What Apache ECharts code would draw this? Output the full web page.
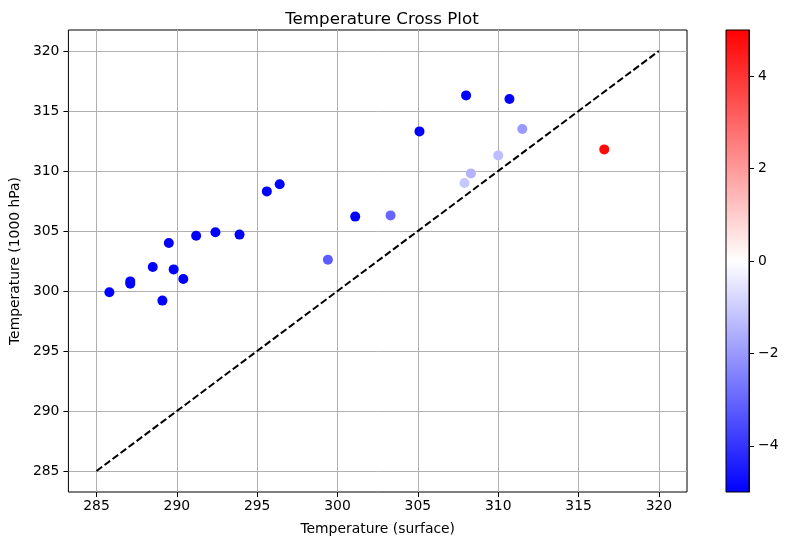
<!DOCTYPE html>
<html>
<head>
<meta charset="utf-8">
<script src="https://cdn.jsdelivr.net/npm/echarts@6/dist/echarts.min.js"></script>
<style>html,body{margin:0;padding:0;background:#fff}#c{width:789px;height:546px}</style>
</head>
<body>
<div id="c"></div>
<script>
// Data
var surfaceT = [285.8, 287.1, 287.1, 288.5, 289.5, 289.8, 289.1, 290.4, 291.2, 292.4, 293.9, 295.6, 296.4, 299.4, 301.1, 303.3, 305.1, 308.0, 307.9, 308.3, 310.0, 310.7, 311.5, 316.6];
var t1000hPa = [299.9, 300.8, 300.6, 302.0, 304.0, 301.8, 299.2, 301.0, 304.6, 304.9, 304.7, 308.3, 308.9, 302.6, 306.2, 306.3, 313.3, 316.3, 309.0, 309.8, 311.3, 316.0, 313.5, 311.8];
var colourValue = [-5, -5, -5, -5, -5, -5, -5, -5, -5, -5, -5, -5, -5, -3.2, -5, -3.0, -5, -5, -1.1, -1.5, -1.3, -5, -2.0, 4.8];
var refLineX = [285, 320];
var refLineY = [285, 320];
var axisTicks = [285, 290, 295, 300, 305, 310, 315, 320];
var colorbarTicks = [-4, -2, 0, 2, 4];

var points = surfaceT.map(function (x, i) { return [x, t1000hPa[i], colourValue[i]]; });
var refLine = refLineX.map(function (x, i) { return [x, refLineY[i]]; });

var FONT = 'DejaVu Sans';
var FS = 13.9;
var chart = echarts.init(document.getElementById('c'), null, {renderer: 'canvas'});
chart.setOption({
  animation: false,
  backgroundColor: '#fff',
  textStyle: {fontFamily: FONT},
  title: {
    text: 'Temperature Cross Plot',
    left: 377, top: 6, textAlign: 'center',
    textStyle: {fontFamily: FONT, fontSize: 16.7, fontWeight: 'normal', color: '#000'}
  },
  grid: [
    {left: 67, top: 30, width: 620, height: 462, show: true, borderColor: '#000', borderWidth: 1, backgroundColor: '#fff'},
    {left: 726, top: 30, width: 23, height: 462, show: true, borderColor: '#000', borderWidth: 1,
     backgroundColor: {type: 'linear', x: 0, y: 0, x2: 0, y2: 1,
       colorStops: [{offset: 0, color: '#ff0000'}, {offset: 0.5, color: '#ffffff'}, {offset: 1, color: '#0000ff'}]}}
  ],
  xAxis: [
    {
      gridIndex: 0, type: 'value', min: 283.25, max: 321.75,
      name: 'Temperature (surface)', nameLocation: 'middle', nameGap: 30,
      nameTextStyle: {fontFamily: FONT, fontSize: FS, color: '#000'},
      axisLine: {show: false},
      axisTick: {show: true, length: 5, inside: false, customValues: axisTicks, lineStyle: {color: '#000'}},
      axisLabel: {customValues: axisTicks, fontFamily: FONT, fontSize: FS, color: '#000', margin: 7},
      splitLine: {show: true, lineStyle: {color: '#b0b0b0', width: 1}}
    },
    {gridIndex: 1, type: 'value', min: 0, max: 1, show: false}
  ],
  yAxis: [
    {
      gridIndex: 0, type: 'value', min: 283.25, max: 321.75,
      name: 'Temperature (1000 hPa)', nameLocation: 'middle', nameGap: 46, nameRotate: 90,
      nameTextStyle: {fontFamily: FONT, fontSize: FS, color: '#000'},
      axisLine: {show: false},
      axisTick: {show: true, length: 5, inside: false, customValues: axisTicks, lineStyle: {color: '#000'}},
      axisLabel: {customValues: axisTicks, fontFamily: FONT, fontSize: FS, color: '#000', margin: 9},
      splitLine: {show: true, lineStyle: {color: '#b0b0b0', width: 1}}
    },
    {
      gridIndex: 1, type: 'value', min: -5, max: 5, position: 'right',
      axisLine: {show: true, onZero: false, lineStyle: {color: '#000', width: 1}},
      axisTick: {show: true, inside: false, length: 5, customValues: colorbarTicks, lineStyle: {color: '#000'}},
      axisLabel: {customValues: colorbarTicks, fontFamily: FONT, fontSize: FS, color: '#000', margin: 9,
        formatter: function (v) { return v < 0 ? '\u2212' + Math.abs(v) : String(v); }},
      splitLine: {show: false}
    }
  ],
  visualMap: {
    show: false, type: 'continuous', min: -5, max: 5, dimension: 2, seriesIndex: 1,
    inRange: {color: ['#0000ff', '#ffffff', '#ff0000']}
  },
  series: [
    {
      type: 'line', xAxisIndex: 0, yAxisIndex: 0, data: refLine, symbol: 'none',
      lineStyle: {color: '#000', width: 2, type: [7, 3]}, z: 2
    },
    {
      type: 'scatter', xAxisIndex: 0, yAxisIndex: 0, data: points, symbolSize: 10,
      itemStyle: {opacity: 1}, z: 3
    }
  ]
});
</script>
</body>
</html>
